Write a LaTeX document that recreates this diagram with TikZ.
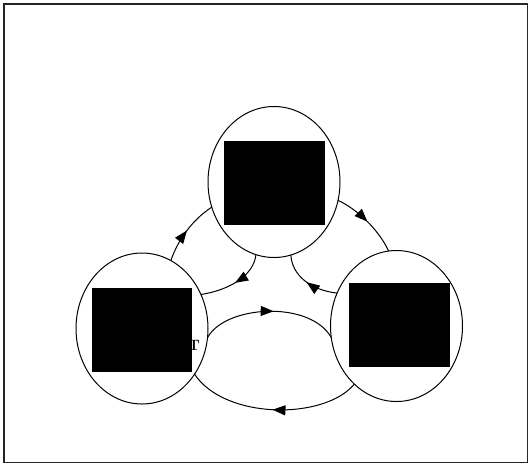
\documentclass[tikz,border=0pt]{standalone}
\usetikzlibrary{shapes.geometric,arrows.meta,decorations.markings}
\begin{document}
\begin{tikzpicture}[x=1pt,y=-1pt,
  state/.style={ellipse,draw,line width=1pt,inner sep=0pt,outer sep=0pt,minimum width=132pt,minimum height=151pt},
  blackbox/.style={fill=black,draw=none,inner sep=0pt,outer sep=0pt},
  flow/.style={line width=1pt,postaction={decorate},decoration={markings,mark=at position #1 with {\arrow{Triangle[length=13pt,width=10pt]}}}},
  flow/.default=0.5]
\useasboundingbox (0,0) rectangle (529,464);
\draw[line width=1.3pt,black!85] (4,4) rectangle (527.5,462.5);
% states
\node[state] (T) at (274,182) {};
\node[state] (L) at (142,328.5) {};
\node[state] (R) at (396.5,326) {};
% partly hidden label
\node[font=\bfseries\fontsize{15}{15}\selectfont,inner sep=0pt] (lab) at (194,345.5) {T};
% black boxes
\node[blackbox,minimum width=101pt,minimum height=84pt] (TB) at (274.5,183) {};
\node[blackbox,minimum width=100pt,minimum height=84pt] (LB) at (142,330) {};
\node[blackbox,minimum width=101pt,minimum height=84pt] (RB) at (399,325) {};
% connectors
\draw[flow] (L.67) .. controls (178,240) and (192,220) .. (T.202);
\draw[flow] (T.344) .. controls (355,208) and (378,228) .. (R.96);
\draw[flow] (T.256) .. controls (254,275) and (230,290) .. (L.30);
\draw[flow] (R.151) .. controls (310,290) and (292,275) .. (T.283);
\draw[flow=0.53] (L.352) .. controls (225,305) and (310,300) .. (R.190);
\draw[flow] (R.234) .. controls (325,420) and (225,420) .. (L.319);
\end{tikzpicture}
\end{document}
